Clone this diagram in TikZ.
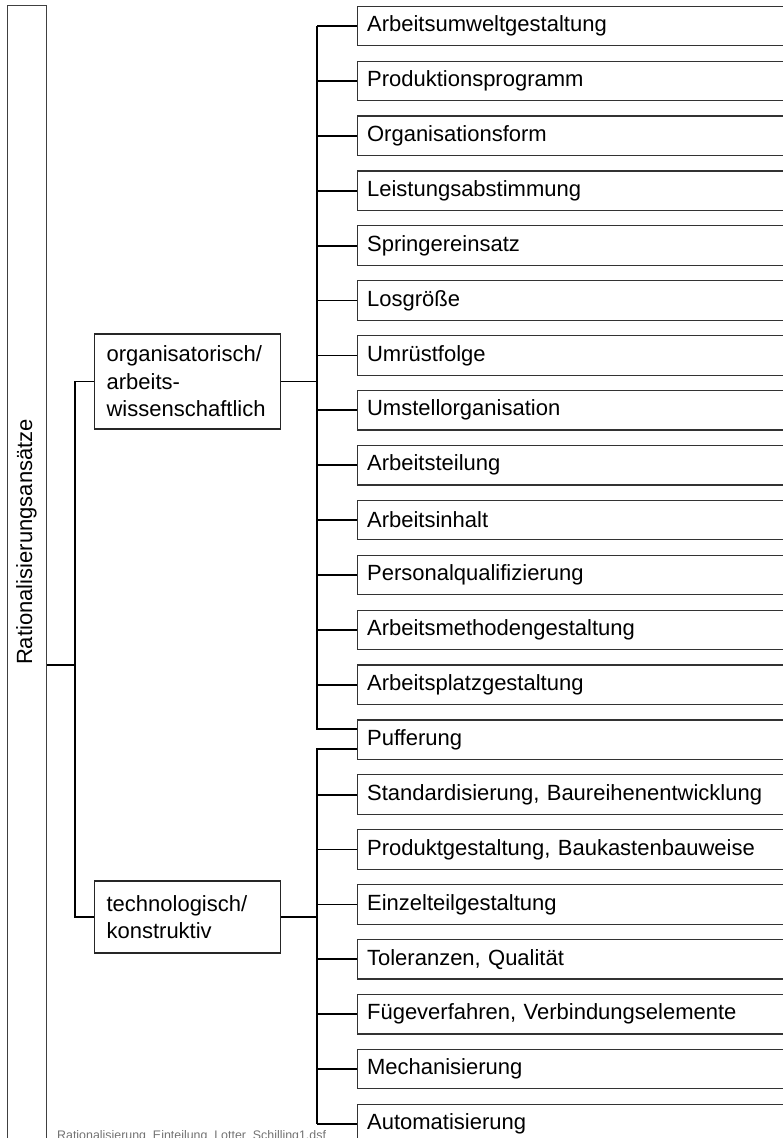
\documentclass[tikz,border=0pt]{standalone}
\usepackage{fontspec}
\setmainfont{Liberation Sans}
\begin{document}
\begin{tikzpicture}[x=1pt,y=-1pt,
  item/.style={draw=black!80, line width=1.2pt, anchor=west, minimum height=39.5pt,
    inner ysep=0pt, inner xsep=9.5pt, text width=470pt, align=left,
    font=\fontsize{22}{26}\selectfont},
  grp/.style={draw=black!85, line width=1.2pt, anchor=west, inner xsep=12pt,
    text width=162pt, align=left, font=\fontsize{22}{27.5}\selectfont},
  conn/.style={draw=black, line width=1.8pt},
  thin/.style={draw=black, line width=1.1pt},
]
\useasboundingbox (0,0) rectangle (783,1138);
\clip (0,0) rectangle (783,1138);
\fill[white] (0,0) rectangle (783,1138);

% main box
\node[draw=black!75, line width=1.2pt, minimum width=39pt, minimum height=1170pt,
  anchor=north west, inner sep=0pt] (main) at (7,5) {};
\node[rotate=90, font=\fontsize{22}{26}\selectfont] (mainlabel) at (26.5,542) {Rationalisierungsansätze};

% group boxes
\node[grp, minimum height=95pt] (org) at (94,381.5) {organisatorisch/\\arbeits-\\wissenschaftlich};
\node[grp, minimum height=72pt] (tech) at (94,917) {technologisch/\\konstruktiv};

% items
\foreach \n/\t in {1/Arbeitsumweltgestaltung, 2/Produktionsprogramm, 3/Organisationsform,
  4/Leistungsabstimmung, 5/Springereinsatz, 6/Losgröße, 7/Umrüstfolge,
  8/Umstellorganisation, 9/Arbeitsteilung, 10/Arbeitsinhalt,
  11/Personalqualifizierung, 12/Arbeitsmethodengestaltung, 13/Arbeitsplatzgestaltung,
  14/Pufferung, 15/{Standardisierung, Baureihenentwicklung},
  16/{Produktgestaltung, Baukastenbauweise}, 17/Einzelteilgestaltung,
  18/{Toleranzen, Qualität}, 19/{Fügeverfahren, Verbindungselemente},
  20/Mechanisierung, 21/Automatisierung}
  \node[item] (i\n) at (357,{26+54.9*(\n-1)}) {\t};

% bus coordinates
\coordinate (ox) at (317,0);
\coordinate (lx) at (75,0);
\coordinate (j) at (75,665);

% left side
\draw[thin] (main.east |- j) -- (j);
\draw[thin] (org.west) -- (org.west -| lx) -- (j);
\draw[conn] (j) -- (tech.west -| lx) -- (tech.west);

% organisational bus
\draw[conn] (org.east) -- (org.east -| ox);
\coordinate (po) at ([yshift=11pt]i14.west);
\coordinate (pt) at ([yshift=-9pt]i14.west);
\draw[conn] (i1.west -| ox) -- (po -| ox) -- (po);
\foreach \n in {1,...,13}
  \draw[conn] (i\n.west) -- (i\n.west -| ox);

% technological bus
\draw[conn] (tech.east) -- (tech.east -| ox);
\draw[conn] (pt) -- (pt -| ox) -- (i21.west -| ox);
\foreach \n in {15,...,21}
  \draw[conn] (i\n.west) -- (i\n.west -| ox);

% footer
\node[anchor=base west, inner sep=0pt, text=black!55, font=\fontsize{12.4}{14}\selectfont]
  (footer) at (57,1139) {Rationalisierung\_Einteilung\_Lotter\_Schilling1.dsf};
\end{tikzpicture}
\end{document}
